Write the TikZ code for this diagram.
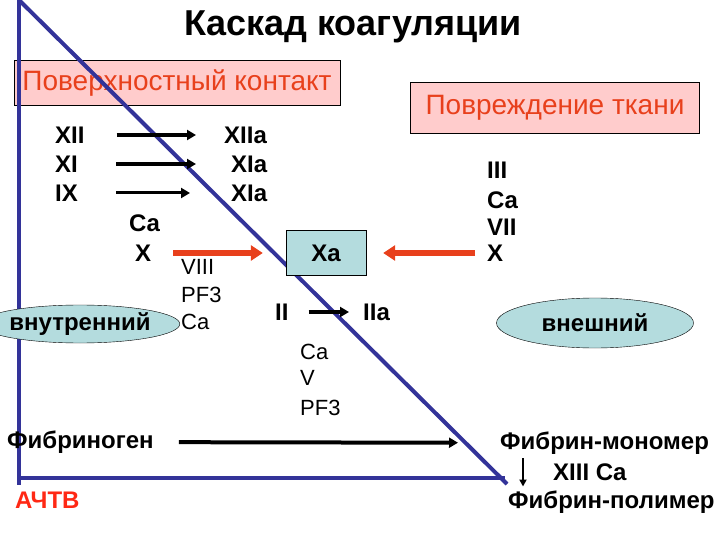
\documentclass[tikz,border=0pt]{standalone}
\usepackage{fontspec}
\setmainfont{Liberation Sans}
\usetikzlibrary{shapes.geometric,arrows.meta}
\definecolor{slidered}{RGB}{232,64,28}
\definecolor{boxpink}{RGB}{255,204,204}
\definecolor{boxteal}{RGB}{180,220,222}
\definecolor{triblue}{RGB}{51,51,153}
\tikzset{
    fac/.style={font=\fontsize{24}{26}\selectfont\bfseries, inner sep=0pt, anchor=west},
    cof/.style={font=\fontsize{22}{24}\selectfont, inner sep=0pt, anchor=west},
    path/.style={draw, fill=boxteal, font=\fontsize{24}{26}\selectfont\bfseries, inner sep=0pt},
    conv/.style={-{Triangle[length=9pt,width=10pt]}, line width=4pt},
    feed/.style={-{Triangle[length=12pt,width=15pt]}, line width=6pt, slidered},
}
\begin{document}
\begin{tikzpicture}[x=1pt, y=-1pt]
    \useasboundingbox (0,0) rectangle (720,540);
    % Title
    \node[font=\fontsize{36}{40}\selectfont\bfseries] (title) at (353,27) {Каскад коагуляции};
    % Triggers
    \node[draw, fill=boxpink, text=slidered, minimum width=326pt, minimum height=45pt, font=\fontsize{28}{30}\selectfont] (contact) at (177,83) {Поверхностный контакт};
    \node[draw, fill=boxpink, text=slidered, minimum width=289pt, minimum height=51pt, font=\fontsize{28}{30}\selectfont] (damage) at (555,108) {Повреждение ткани};
    % Triangle
    \draw[triblue, line width=4pt] (19,0) -- (19,485);
    \draw[triblue, line width=4pt] (19,478) -- (505,478);
    \draw[triblue, line width=4pt] (19,0) -- (507,484);
    % Contact factors
    \node[fac] (XII) at (55,135) {XII};
    \node[fac] (XI) at (55,164) {XI};
    \node[fac] (IX) at (55,193) {IX};
    \node[fac] (XIIa) at (224,135) {XIIa};
    \node[fac] (XIa) at (231,164) {XIa};
    \node[fac] (IXa) at (231,193) {XIa};
    \draw[conv, shorten <=32pt, shorten >=28pt] (XII) -- (XIIa);
    \draw[conv, shorten <=38pt, shorten >=35pt] (XI) -- (XIa);
    \draw[conv, line width=3pt, shorten <=38pt, shorten >=41pt] (IX) -- (IXa);
    \node[fac] (Ca1) at (129,223) {Ca};
    \node[fac] (X1) at (135,253) {X};
    \node[cof] (VIII) at (181,267) {VIII};
    \node[cof] (PF1) at (181,295) {PF3};
    \node[cof] (Ca2) at (181,322) {Ca};
    \node[path, ellipse, minimum width=164pt, minimum height=38pt] (intr) at (80,324) {внутренний};
    % Factor Xa
    \node[path, minimum width=80pt, minimum height=45pt] (Xa) at (326,253) {Xa};
    \draw[feed, shorten <=22pt, shorten >=23pt] (X1) -- (Xa);
    % Tissue factors
    \node[fac] (III) at (487,170) {III};
    \node[fac] (Ca3) at (487,200) {Ca};
    \node[fac] (VII) at (487,227) {VII};
    \node[fac] (X2) at (487,253) {X};
    \draw[feed, shorten <=12pt, shorten >=17pt] (X2) -- (Xa);
    \node[path, ellipse, minimum width=197pt, minimum height=50pt] (extr) at (595,323) {внешний};
    % Thrombin
    \node[fac] (II) at (275,312) {II};
    \node[fac] (IIa) at (363,312) {IIa};
    \draw[conv, shorten <=20pt, shorten >=14pt] (II) -- (IIa);
    \node[cof] (Ca4) at (300,352) {Ca};
    \node[cof] (V) at (300,378) {V};
    \node[cof] (PF2) at (300,408) {PF3};
    % Fibrin
    \node[fac] (fgen) at (7,442) {Фибриноген};
    \node[fac] (mono) at (500,443) {Фибрин-мономер};
    \node[fac] (XIII) at (553,472) {XIII Ca};
    \node[fac] (poly) at (508,502) {Фибрин-полимер};
    \draw[conv, shorten <=25pt, shorten >=42pt] (fgen) -- (mono);
    \draw[-{Triangle[length=7pt,width=7pt]}, line width=2pt, shorten <=4pt, shorten >=4pt] ([xshift=23pt]mono.south west) -- ([xshift=15pt]poly.north west);
    \node[fac, text={rgb,255:red,255;green,40;blue,20}] (aptt) at (15,500) {АЧТВ};
\end{tikzpicture}
\end{document}
